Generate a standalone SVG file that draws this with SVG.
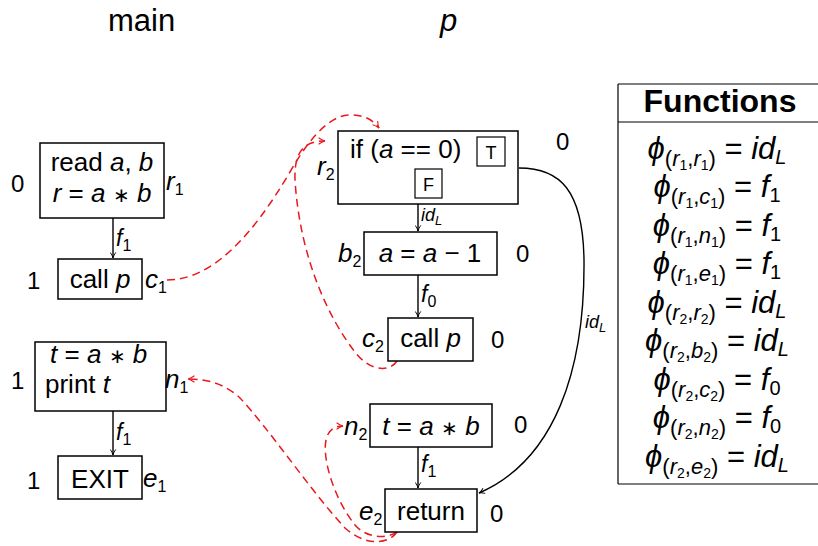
<svg xmlns="http://www.w3.org/2000/svg" width="818" height="546" viewBox="0 0 818 546">
<style>
text{font-family:"Liberation Sans",Arial,sans-serif;fill:#000}
.t{font-size:26px}
.c{text-anchor:middle}
.i{font-style:italic}
.s{font-size:18px}
.f{font-size:23px;font-style:italic}
.lab{font-size:24px}
.ttl{font-size:31px}
.box{fill:#fff;stroke:#000;stroke-width:1.5}
.sm{fill:#fff;stroke:#000;stroke-width:1.2}
.e{fill:none;stroke:#000;stroke-width:1.4}
.d{fill:none;stroke:#e8181c;stroke-width:1.5;stroke-dasharray:8 5}
.fn{font-size:31px;text-anchor:middle}
.hd{font-size:32px;font-weight:bold;text-anchor:middle}
.tl{stroke:#000;stroke-width:1.2}
.ast{font-size:20px}
</style>
<defs>
<marker id="ab" viewBox="0 0 10 10" refX="9" refY="5" markerWidth="7" markerHeight="7" markerUnits="userSpaceOnUse" orient="auto">
<path d="M1,1 Q5,4 9,5 Q5,6 1,9" fill="none" stroke="#000" stroke-width="1.3"/>
</marker>
<marker id="ar" viewBox="0 0 10 10" refX="9" refY="5" markerWidth="8" markerHeight="8" markerUnits="userSpaceOnUse" orient="auto">
<path d="M1,1 Q5,4 9,5 Q5,6 1,9" fill="none" stroke="#e8181c" stroke-width="1.4"/>
</marker>
</defs>

<text class="ttl" x="108" y="31">main</text>
<text class="ttl i" x="440" y="31">p</text>

<g id="connectors">
<line class="e" x1="113" y1="218" x2="113" y2="258" marker-end="url(#ab)"/>
<line class="e" x1="113" y1="411" x2="113" y2="455" marker-end="url(#ab)"/>
<line class="e" x1="418" y1="204" x2="418" y2="231" marker-end="url(#ab)"/>
<line class="e" x1="418" y1="275" x2="418" y2="317" marker-end="url(#ab)"/>
<line class="e" x1="418" y1="447" x2="418" y2="488" marker-end="url(#ab)"/>
<path class="e" d="M519,168 C560,168 583,190 584,260 C585,370 555,460 479,493" marker-end="url(#ab)"/>
<text class="f" x="116" y="246">f<tspan font-style="normal" font-size="16" dy="5">1</tspan></text>
<text class="f" x="116" y="440">f<tspan font-style="normal" font-size="16" dy="5">1</tspan></text>
<text class="s i" x="421" y="221">id<tspan font-size="13" dy="4">L</tspan></text>
<text class="f" x="421" y="302">f<tspan font-style="normal" font-size="16" dy="5">0</tspan></text>
<text class="f" x="421" y="472">f<tspan font-style="normal" font-size="16" dy="5">1</tspan></text>
<text class="s i" x="585" y="328">id<tspan font-size="13" dy="4">L</tspan></text>
<path class="d" d="M167,280 C210,280 250,240 290,172 C315,128 335,115 350,115 C365,115 373,120 379,128" marker-end="url(#ar)"/>
<path class="d" d="M397,361 C390,372 370,372 355,352 C330,320 300,260 295,180 C294,150 305,141 325,141" marker-end="url(#ar)"/>
<path class="d" d="M397,532 C385,540 365,537 355,525 C335,500 322,460 326,440 C328,430 335,426 343,426" marker-end="url(#ar)"/>
<path class="d" d="M397,532 C388,545 365,546 345,528 C310,490 270,430 240,398 C225,384 208,379 188,379" marker-end="url(#ar)"/>
</g>

<g id="r1">
<rect class="box" x="40" y="143" width="124" height="75"/>
<text class="t c" x="102" y="171">read <tspan class="i">a</tspan>, <tspan class="i">b</tspan></text>
<text class="t c" x="102" y="202"><tspan class="i">r</tspan> = <tspan class="i">a</tspan> <tspan class="ast">∗</tspan> <tspan class="i">b</tspan></text>
<text class="lab" x="11" y="192">0</text>
<text class="t i" x="166" y="190">r<tspan font-style="normal" font-size="16" dy="5">1</tspan></text>
</g>

<g id="c1">
<rect class="box" x="58" y="259" width="84" height="40"/>
<text class="t c" x="100" y="288">call <tspan class="i">p</tspan></text>
<text class="lab" x="27" y="289">1</text>
<text class="t i" x="145" y="288">c<tspan font-style="normal" font-size="16" dy="5">1</tspan></text>
</g>

<g id="n1">
<rect class="box" x="35" y="342" width="131" height="69"/>
<text class="t" x="50" y="363"><tspan class="i">t</tspan> = <tspan class="i">a</tspan> <tspan class="ast">∗</tspan> <tspan class="i">b</tspan></text>
<text class="t" x="45" y="393">print <tspan class="i">t</tspan></text>
<text class="lab" x="11" y="389">1</text>
<text class="t i" x="165" y="388">n<tspan font-style="normal" font-size="16" dy="5">1</tspan></text>
</g>

<g id="e1">
<rect class="box" x="58" y="456" width="84" height="43"/>
<text class="t c" x="100" y="488">EXIT</text>
<text class="lab" x="27" y="489">1</text>
<text class="t i" x="143" y="487">e<tspan font-style="normal" font-size="16" dy="5">1</tspan></text>
</g>

<g id="r2">
<rect class="box" x="338" y="131" width="180" height="73"/>
<text class="t" x="350" y="158">if (<tspan class="i">a</tspan> == 0)</text>
<rect class="sm" x="477" y="137" width="28" height="29"/>
<text class="c" x="491" y="159" font-size="18">T</text>
<rect class="sm" x="415" y="169" width="27" height="29"/>
<text class="c" x="428.5" y="191" font-size="18">F</text>
<text class="t i" x="317" y="175">r<tspan font-style="normal" font-size="16" dy="5">2</tspan></text>
<text class="lab" x="556" y="150">0</text>
</g>

<g id="b2">
<rect class="box" x="364" y="232" width="133" height="43"/>
<text class="t c" x="430" y="262"><tspan class="i">a</tspan> = <tspan class="i">a</tspan> − 1</text>
<text class="t i" x="338" y="262">b<tspan font-style="normal" font-size="16" dy="5">2</tspan></text>
<text class="lab" x="516" y="262">0</text>
</g>

<g id="c2">
<rect class="box" x="388" y="318" width="85" height="43"/>
<text class="t c" x="430.5" y="347">call <tspan class="i">p</tspan></text>
<text class="t i" x="362" y="347">c<tspan font-style="normal" font-size="16" dy="5">2</tspan></text>
<text class="lab" x="491" y="348">0</text>
</g>

<g id="n2">
<rect class="box" x="370" y="404" width="122" height="43"/>
<text class="t c" x="431" y="435"><tspan class="i">t</tspan> = <tspan class="i">a</tspan> <tspan class="ast">∗</tspan> <tspan class="i">b</tspan></text>
<text class="t i" x="344" y="435">n<tspan font-style="normal" font-size="16" dy="5">2</tspan></text>
<text class="lab" x="514" y="433">0</text>
</g>

<g id="e2">
<rect class="box" x="385" y="489" width="92" height="43"/>
<text class="t c" x="431" y="520">return</text>
<text class="t i" x="359" y="520">e<tspan font-style="normal" font-size="16" dy="5">2</tspan></text>
<text class="lab" x="490" y="522">0</text>
</g>

<g id="functions">
<line class="tl" x1="618" y1="84" x2="818" y2="84"/>
<line class="tl" x1="618" y1="122" x2="818" y2="122"/>
<line class="tl" x1="618" y1="484" x2="818" y2="484"/>
<line class="tl" x1="618" y1="84" x2="618" y2="484"/>
<text class="hd" x="720" y="112">Functions</text>
<text class="fn" x="717" y="159"><tspan class="i">ϕ</tspan><tspan font-size="22" dy="7">(</tspan><tspan class="i" font-size="22">r</tspan><tspan font-size="14" dy="4">1</tspan><tspan font-size="22" dy="-4">,</tspan><tspan class="i" font-size="22">r</tspan><tspan font-size="14" dy="4">1</tspan><tspan font-size="22" dy="-4">)</tspan><tspan dy="-7"> = </tspan><tspan class="i">id</tspan><tspan class="i" font-size="20" dy="5">L</tspan></text>
<text class="fn" x="717" y="197"><tspan class="i">ϕ</tspan><tspan font-size="22" dy="7">(</tspan><tspan class="i" font-size="22">r</tspan><tspan font-size="14" dy="4">1</tspan><tspan font-size="22" dy="-4">,</tspan><tspan class="i" font-size="22">c</tspan><tspan font-size="14" dy="4">1</tspan><tspan font-size="22" dy="-4">)</tspan><tspan dy="-7"> = </tspan><tspan class="i">f</tspan><tspan font-size="20" dy="5">1</tspan></text>
<text class="fn" x="717" y="236"><tspan class="i">ϕ</tspan><tspan font-size="22" dy="7">(</tspan><tspan class="i" font-size="22">r</tspan><tspan font-size="14" dy="4">1</tspan><tspan font-size="22" dy="-4">,</tspan><tspan class="i" font-size="22">n</tspan><tspan font-size="14" dy="4">1</tspan><tspan font-size="22" dy="-4">)</tspan><tspan dy="-7"> = </tspan><tspan class="i">f</tspan><tspan font-size="20" dy="5">1</tspan></text>
<text class="fn" x="717" y="274"><tspan class="i">ϕ</tspan><tspan font-size="22" dy="7">(</tspan><tspan class="i" font-size="22">r</tspan><tspan font-size="14" dy="4">1</tspan><tspan font-size="22" dy="-4">,</tspan><tspan class="i" font-size="22">e</tspan><tspan font-size="14" dy="4">1</tspan><tspan font-size="22" dy="-4">)</tspan><tspan dy="-7"> = </tspan><tspan class="i">f</tspan><tspan font-size="20" dy="5">1</tspan></text>
<text class="fn" x="717" y="313"><tspan class="i">ϕ</tspan><tspan font-size="22" dy="7">(</tspan><tspan class="i" font-size="22">r</tspan><tspan font-size="14" dy="4">2</tspan><tspan font-size="22" dy="-4">,</tspan><tspan class="i" font-size="22">r</tspan><tspan font-size="14" dy="4">2</tspan><tspan font-size="22" dy="-4">)</tspan><tspan dy="-7"> = </tspan><tspan class="i">id</tspan><tspan class="i" font-size="20" dy="5">L</tspan></text>
<text class="fn" x="717" y="351"><tspan class="i">ϕ</tspan><tspan font-size="22" dy="7">(</tspan><tspan class="i" font-size="22">r</tspan><tspan font-size="14" dy="4">2</tspan><tspan font-size="22" dy="-4">,</tspan><tspan class="i" font-size="22">b</tspan><tspan font-size="14" dy="4">2</tspan><tspan font-size="22" dy="-4">)</tspan><tspan dy="-7"> = </tspan><tspan class="i">id</tspan><tspan class="i" font-size="20" dy="5">L</tspan></text>
<text class="fn" x="717" y="390"><tspan class="i">ϕ</tspan><tspan font-size="22" dy="7">(</tspan><tspan class="i" font-size="22">r</tspan><tspan font-size="14" dy="4">2</tspan><tspan font-size="22" dy="-4">,</tspan><tspan class="i" font-size="22">c</tspan><tspan font-size="14" dy="4">2</tspan><tspan font-size="22" dy="-4">)</tspan><tspan dy="-7"> = </tspan><tspan class="i">f</tspan><tspan font-size="20" dy="5">0</tspan></text>
<text class="fn" x="717" y="428"><tspan class="i">ϕ</tspan><tspan font-size="22" dy="7">(</tspan><tspan class="i" font-size="22">r</tspan><tspan font-size="14" dy="4">2</tspan><tspan font-size="22" dy="-4">,</tspan><tspan class="i" font-size="22">n</tspan><tspan font-size="14" dy="4">2</tspan><tspan font-size="22" dy="-4">)</tspan><tspan dy="-7"> = </tspan><tspan class="i">f</tspan><tspan font-size="20" dy="5">0</tspan></text>
<text class="fn" x="717" y="467"><tspan class="i">ϕ</tspan><tspan font-size="22" dy="7">(</tspan><tspan class="i" font-size="22">r</tspan><tspan font-size="14" dy="4">2</tspan><tspan font-size="22" dy="-4">,</tspan><tspan class="i" font-size="22">e</tspan><tspan font-size="14" dy="4">2</tspan><tspan font-size="22" dy="-4">)</tspan><tspan dy="-7"> = </tspan><tspan class="i">id</tspan><tspan class="i" font-size="20" dy="5">L</tspan></text>
</g>
</svg>
